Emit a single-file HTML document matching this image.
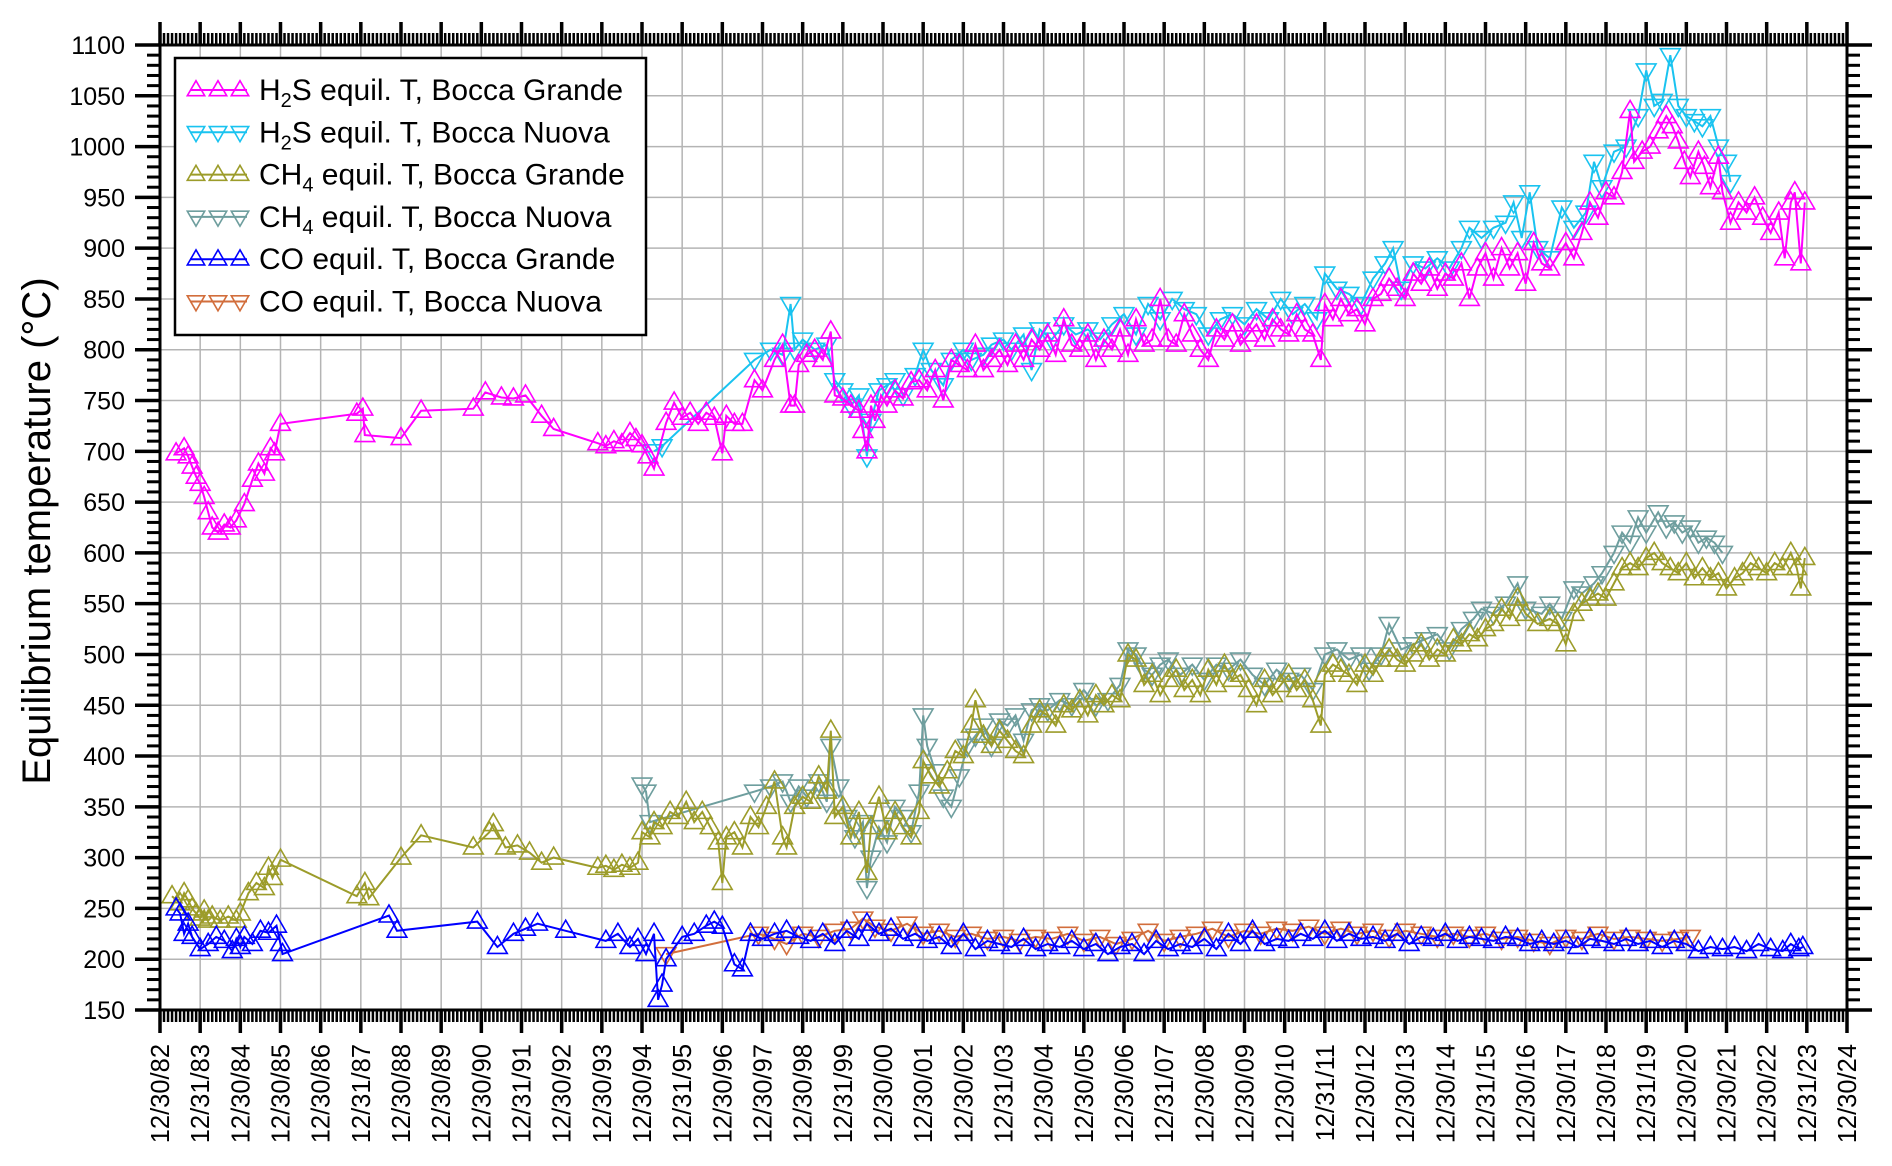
<!DOCTYPE html>
<html><head><meta charset="utf-8"><style>
html,body{margin:0;padding:0;background:#fff;}
svg{display:block;font-family:"Liberation Sans",Arial,sans-serif;}
</style></head><body>
<svg id="chart" width="1892" height="1166" viewBox="0 0 1892 1166" xmlns="http://www.w3.org/2000/svg">
<g id="grid"></g>
<g id="series"></g>
<g id="axes"></g>
<text transform="translate(50,531) rotate(-90)" text-anchor="middle" font-size="40" fill="#000">Equilibrium temperature (°C)</text>
<g id="legend"></g>
</svg>
<script>
const yTicks = [150,200,250,300,350,400,450,500,550,600,650,700,750,800,850,900,950,1000,1050,1100];
const xTickLabels = ["12/30/82","12/31/83","12/30/84","12/30/85","12/30/86","12/31/87","12/30/88","12/30/89","12/30/90","12/31/91","12/30/92","12/30/93","12/30/94","12/31/95","12/30/96","12/30/97","12/30/98","12/31/99","12/30/00","12/30/01","12/30/02","12/31/03","12/30/04","12/30/05","12/30/06","12/31/07","12/30/08","12/30/09","12/30/10","12/31/11","12/30/12","12/30/13","12/30/14","12/31/15","12/30/16","12/30/17","12/30/18","12/31/19","12/30/20","12/30/21","12/30/22","12/31/23","12/30/24"];
const xStartYear = 1983;

const h2sBgT = [1983.4,1983.6,1983.7,1983.8,1983.9,1984.0,1984.1,1984.2,1984.3,1984.45,1984.6,1984.75,1984.9,1985.1,1985.3,1985.45,1985.6,1985.75,1985.85,1986.0,1987.9,1988.05,1988.1,1989.0,1989.5,1990.8,1991.1,1991.5,1991.8,1992.1,1992.5,1992.8,1993.9,1994.1,1994.3,1994.5,1994.7,1994.85,1995.0,1995.15,1995.3,1995.6,1995.8,1996.0,1996.2,1996.4,1996.6,1996.8,1997.0,1997.1,1997.3,1997.5,1997.8,1998.0,1998.3,1998.5,1998.7,1998.8,1998.9,1999.1,1999.3,1999.5,1999.7,1999.8,2000.0,2000.2,2000.4,2000.5,2000.6,2000.7,2000.8,2000.95,2001.1,2001.3,2001.5,2001.7,2001.9,2002.1,2002.3,2002.5,2002.7,2002.9,2003.1,2003.3,2003.5,2003.7,2003.9,2004.1,2004.3,2004.5,2004.7,2004.9,2005.1,2005.3,2005.5,2005.7,2005.9,2006.1,2006.3,2006.5,2006.7,2006.9,2007.1,2007.3,2007.5,2007.7,2007.9,2008.1,2008.3,2008.5,2008.7,2008.9,2009.1,2009.3,2009.5,2009.7,2009.9,2010.1,2010.3,2010.5,2010.7,2010.9,2011.1,2011.3,2011.5,2011.7,2011.9,2012.0,2012.2,2012.4,2012.6,2012.8,2013.0,2013.2,2013.4,2013.6,2013.8,2014.0,2014.2,2014.4,2014.6,2014.8,2015.0,2015.2,2015.4,2015.6,2015.8,2016.0,2016.2,2016.4,2016.6,2016.8,2017.0,2017.2,2017.4,2017.6,2018.0,2018.2,2018.4,2018.6,2018.8,2019.0,2019.2,2019.4,2019.6,2019.7,2019.9,2020.1,2020.3,2020.5,2020.65,2020.8,2020.95,2021.1,2021.3,2021.45,2021.6,2021.8,2021.9,2022.1,2022.3,2022.5,2022.7,2022.9,2023.1,2023.3,2023.45,2023.6,2023.7,2023.85,2023.95];
const h2sBgV = [698,703,695,685,675,668,655,640,625,620,628,625,632,648,672,688,678,703,698,727,737,742,716,713,740,742,758,753,752,755,735,722,708,705,710,707,718,712,706,695,683,728,748,733,738,727,738,733,698,735,727,727,770,760,790,805,745,745,785,795,800,790,818,755,752,745,740,720,700,745,730,755,745,760,752,768,770,760,780,750,790,785,780,805,780,790,800,785,805,790,810,800,815,795,830,805,800,815,790,810,800,820,795,830,805,810,850,810,805,835,815,800,790,820,810,825,805,815,825,810,830,820,815,835,820,815,790,845,830,850,835,840,825,850,855,870,860,850,875,865,880,860,875,870,885,850,880,895,870,900,880,895,865,905,885,880,905,890,915,945,930,955,950,975,1035,985,995,1000,1015,1030,1020,1005,985,970,995,980,960,990,955,925,945,935,950,930,915,935,890,945,955,885,945];

const h2sBnT = [1995.3,1995.5,1997.8,1998.2,1998.5,1998.7,1998.8,1999.0,1999.3,1999.6,1999.8,2000.0,2000.2,2000.4,2000.6,2000.7,2000.9,2001.1,2001.3,2001.5,2001.8,2002.0,2002.2,2002.5,2002.7,2003.0,2003.2,2003.5,2003.7,2004.0,2004.2,2004.5,2004.7,2004.9,2005.2,2005.5,2005.8,2006.1,2006.4,2006.7,2007.0,2007.3,2007.6,2007.9,2008.2,2008.5,2008.8,2009.1,2009.4,2009.7,2010.0,2010.3,2010.6,2010.9,2011.2,2011.5,2011.8,2012.0,2012.3,2012.6,2012.9,2013.2,2013.5,2013.7,2013.9,2014.2,2014.5,2014.8,2015.1,2015.4,2015.6,2015.9,2016.2,2016.5,2016.7,2016.9,2017.1,2017.3,2017.6,2017.9,2018.2,2018.5,2018.7,2018.9,2019.2,2019.5,2019.8,2020.0,2020.2,2020.4,2020.6,2020.8,2021.0,2021.2,2021.4,2021.6,2021.8,2022.0,2022.1];
const h2sBnV = [700,705,790,800,795,845,800,810,800,805,770,760,745,755,695,730,760,765,770,755,775,800,780,765,790,800,790,795,805,810,800,815,780,820,810,825,815,820,810,825,835,815,845,830,850,840,835,815,830,835,825,840,830,850,835,845,830,875,860,855,845,870,885,900,860,885,880,890,880,900,920,910,920,925,945,910,955,900,890,940,920,935,985,960,995,1000,1030,1075,1040,1045,1090,1040,1030,1025,1020,1030,1000,985,965];

const ch4BgT = [1983.3,1983.5,1983.6,1983.7,1983.8,1983.9,1984.0,1984.1,1984.2,1984.3,1984.5,1984.7,1984.9,1985.0,1985.2,1985.4,1985.6,1985.7,1985.8,1986.0,1987.9,1988.1,1988.2,1989.0,1989.5,1990.8,1991.2,1991.3,1991.6,1991.9,1992.2,1992.5,1992.8,1993.9,1994.1,1994.3,1994.5,1994.7,1994.9,1995.0,1995.2,1995.3,1995.5,1995.7,1995.9,1996.1,1996.3,1996.5,1996.7,1996.9,1997.0,1997.1,1997.3,1997.5,1997.7,1997.9,1998.1,1998.3,1998.5,1998.6,1998.8,1999.0,1999.2,1999.4,1999.6,1999.7,1999.8,2000.0,2000.2,2000.4,2000.6,2000.7,2000.9,2001.1,2001.3,2001.5,2001.7,2001.9,2002.0,2002.2,2002.4,2002.6,2002.8,2003.0,2003.2,2003.3,2003.5,2003.7,2003.9,2004.1,2004.3,2004.5,2004.7,2004.9,2005.1,2005.3,2005.5,2005.7,2005.9,2006.1,2006.3,2006.5,2006.7,2006.9,2007.1,2007.3,2007.5,2007.7,2007.9,2008.1,2008.3,2008.5,2008.7,2008.9,2009.1,2009.3,2009.5,2009.7,2009.9,2010.1,2010.3,2010.5,2010.7,2010.9,2011.1,2011.3,2011.5,2011.7,2011.9,2012.0,2012.2,2012.4,2012.6,2012.8,2013.0,2013.2,2013.4,2013.6,2013.8,2014.0,2014.2,2014.4,2014.6,2014.8,2015.0,2015.2,2015.4,2015.6,2015.8,2016.0,2016.2,2016.4,2016.6,2016.8,2017.0,2017.3,2017.6,2017.8,2018.0,2018.2,2018.4,2018.6,2018.8,2019.0,2019.2,2019.4,2019.6,2019.8,2020.0,2020.2,2020.4,2020.6,2020.8,2021.0,2021.2,2021.4,2021.6,2021.8,2022.0,2022.2,2022.4,2022.6,2022.8,2023.0,2023.2,2023.4,2023.6,2023.75,2023.85,2023.95];
const ch4BgV = [262,255,265,258,250,245,240,248,238,242,238,242,238,245,265,275,270,290,280,298,262,275,260,300,322,310,325,333,310,312,305,295,300,290,292,288,293,290,295,325,320,335,330,345,340,355,335,345,330,315,275,320,325,310,340,330,350,375,320,310,350,360,355,380,365,425,340,350,320,345,285,330,360,325,345,330,320,345,395,380,370,385,405,400,430,455,420,410,425,415,405,400,430,445,440,430,450,445,455,440,460,450,460,455,500,495,470,480,460,475,485,465,475,460,485,470,490,475,480,465,450,475,460,470,480,465,475,455,430,480,490,485,480,470,490,480,495,505,495,490,500,510,495,505,500,515,510,520,515,525,530,545,535,555,540,530,535,530,510,540,550,555,560,555,570,585,590,585,595,600,590,585,580,590,575,585,575,580,565,575,580,590,585,580,590,585,600,585,565,595];

const ch4BnT = [1995.0,1995.1,1995.2,1997.8,1998.2,1998.5,1998.7,1998.9,1999.1,1999.4,1999.6,1999.7,1999.9,2000.1,2000.3,2000.5,2000.6,2000.7,2000.9,2001.1,2001.3,2001.5,2001.7,2001.9,2002.0,2002.1,2002.3,2002.5,2002.7,2002.9,2003.1,2003.3,2003.5,2003.7,2003.9,2004.1,2004.3,2004.5,2004.7,2004.9,2005.1,2005.4,2005.7,2006.0,2006.3,2006.6,2006.9,2007.1,2007.3,2007.5,2007.7,2007.9,2008.1,2008.4,2008.7,2009.0,2009.3,2009.6,2009.9,2010.2,2010.5,2010.8,2011.1,2011.4,2011.7,2012.0,2012.3,2012.6,2012.9,2013.1,2013.4,2013.6,2013.9,2014.2,2014.5,2014.8,2015.1,2015.4,2015.7,2015.9,2016.2,2016.5,2016.8,2017.0,2017.4,2017.6,2017.9,2018.2,2018.4,2018.7,2018.9,2019.2,2019.4,2019.6,2019.8,2020.0,2020.3,2020.5,2020.7,2020.9,2021.1,2021.3,2021.5,2021.7,2021.9];
const ch4BnV = [372,365,335,365,370,375,355,370,360,375,355,410,370,340,320,335,270,300,330,315,350,340,325,365,440,410,385,360,350,380,410,420,430,410,435,430,440,415,445,450,445,455,450,465,450,455,470,505,500,485,480,490,495,480,490,475,490,485,495,480,470,485,475,480,465,500,505,495,500,485,500,530,505,510,515,520,505,525,535,545,540,550,570,545,540,550,535,565,560,570,580,600,620,610,635,620,640,625,630,620,625,610,615,610,600];

const coBgT = [1983.4,1983.5,1983.6,1983.7,1983.8,1984.0,1984.2,1984.4,1984.6,1984.8,1984.9,1985.0,1985.1,1985.3,1985.5,1985.7,1985.9,1986.0,1986.05,1988.7,1988.9,1990.9,1991.4,1991.8,1992.1,1992.4,1993.1,1994.1,1994.4,1994.7,1994.9,1995.1,1995.3,1995.4,1995.5,1995.6,1996.0,1996.3,1996.6,1996.8,1997.0,1997.3,1997.5,1997.7,1998.0,1998.3,1998.6,1998.9,1999.2,1999.5,1999.8,2000.1,2000.4,2000.6,2000.9,2001.2,2001.5,2001.8,2002.1,2002.4,2002.7,2003.0,2003.3,2003.6,2003.9,2004.2,2004.5,2004.8,2005.1,2005.4,2005.7,2006.0,2006.3,2006.6,2006.9,2007.2,2007.5,2007.8,2008.1,2008.4,2008.7,2009.0,2009.3,2009.6,2009.9,2010.2,2010.5,2010.8,2011.1,2011.4,2011.7,2012.0,2012.3,2012.6,2012.9,2013.2,2013.5,2013.8,2014.1,2014.4,2014.7,2015.0,2015.3,2015.6,2015.9,2016.2,2016.5,2016.8,2017.1,2017.4,2017.7,2018.0,2018.3,2018.6,2018.9,2019.2,2019.5,2019.8,2020.1,2020.4,2020.7,2021.0,2021.3,2021.6,2021.9,2022.2,2022.5,2022.8,2023.1,2023.4,2023.6,2023.8,2023.9];
const coBgV = [250,245,225,235,222,210,215,222,218,208,220,212,222,215,228,226,233,215,205,243,228,237,212,225,230,235,228,218,225,212,220,205,225,160,175,200,222,225,233,237,232,195,190,225,220,225,228,222,218,225,215,228,220,235,225,230,220,225,218,222,212,225,210,218,215,212,220,210,215,212,218,210,215,205,212,215,205,218,210,215,212,220,210,225,215,228,215,220,218,225,220,228,218,225,220,222,218,225,215,222,220,225,218,222,220,218,222,220,215,218,215,218,212,220,218,215,220,215,218,212,218,215,208,212,210,212,208,215,210,208,215,210,212];

const coBnT = [1995.6,1997.9,1998.3,1998.6,1999.0,1999.4,1999.8,2000.2,2000.5,2000.8,2001.2,2001.6,2002.0,2002.4,2002.8,2003.2,2003.6,2004.0,2004.4,2004.8,2005.2,2005.6,2006.0,2006.4,2006.8,2007.2,2007.6,2008.0,2008.4,2008.8,2009.2,2009.6,2010.0,2010.4,2010.8,2011.2,2011.6,2012.0,2012.4,2012.8,2013.2,2013.6,2014.0,2014.4,2014.8,2015.2,2015.6,2016.0,2016.4,2016.8,2017.2,2017.6,2018.0,2018.4,2018.8,2019.2,2019.6,2020.0,2020.4,2020.8,2021.1];
const coBnV = [205,225,220,215,225,222,228,230,240,232,228,235,225,228,222,225,220,222,218,222,220,225,218,222,215,220,228,218,222,225,230,222,228,225,230,228,232,225,230,225,228,222,228,225,222,225,222,225,220,222,218,215,222,220,225,220,222,220,218,220,222];

const legendLabels = [["H","2","S equil. T, Bocca Grande"],["H","2","S equil. T, Bocca Nuova"],["CH","4"," equil. T, Bocca Grande"],["CH","4"," equil. T, Bocca Nuova"],["CO",""," equil. T, Bocca Grande"],["CO",""," equil. T, Bocca Nuova"]];

const L=160,R=1847,T=45,B=1010;
const NS='http://www.w3.org/2000/svg';
function xs(t){return L+(t-xStartYear)*(R-L)/42;}
function ys(v){return B-(v-150)*(B-T)/950;}
function mk(tag,attrs,parent){const e=document.createElementNS(NS,tag);for(const k in attrs)e.setAttribute(k,attrs[k]);parent.appendChild(e);return e;}
const grid=document.getElementById('grid'),axes=document.getElementById('axes'),ser=document.getElementById('series'),leg=document.getElementById('legend');

for(let i=1;i<42;i++){const g=mk('line',{x1:xs(xStartYear+i),x2:xs(xStartYear+i),y1:T,y2:B,stroke:'#b4b4b4','stroke-width':1.5},grid);

}
yTicks.forEach(v=>{if(v>150&&v<1100){const g=mk('line',{x1:L,x2:R,y1:ys(v),y2:ys(v),stroke:'#b4b4b4','stroke-width':1.5},grid);

}});

function triPts(x,y,up,s){return up?`${x},${y-s*0.62} ${x-s*0.58},${y+s*0.38} ${x+s*0.58},${y+s*0.38}`:`${x},${y+s*0.62} ${x-s*0.58},${y-s*0.38} ${x+s*0.58},${y-s*0.38}`;}
function drawSeries(tArr,vArr,color,up,name){
  const g=mk('g',{},ser);
  
  
  const pts=tArr.map((t,i)=>xs(t).toFixed(1)+','+ys(vArr[i]).toFixed(1)).join(' ');
  const pl=mk('polyline',{points:pts,fill:'none',stroke:color,'stroke-width':2},g);
  
  
  tArr.forEach((t,i)=>{const p=mk('polygon',{points:triPts(xs(t),ys(vArr[i]),up,17),fill:'none',stroke:color,'stroke-width':1.6},g);
  
  });
}
const cMag='#ff00ff',cCyan='#19c3f0',cOl='#9c9c2a',cTeal='#6e9e9e',cBlue='#0000ff',cOr='#d26e3c';
drawSeries(h2sBnT,h2sBnV,cCyan,false,'h2s-bocca-nuova');
drawSeries(h2sBgT,h2sBgV,cMag,true,'h2s-bocca-grande');
drawSeries(ch4BnT,ch4BnV,cTeal,false,'ch4-bocca-nuova');
drawSeries(ch4BgT,ch4BgV,cOl,true,'ch4-bocca-grande');
drawSeries(coBnT,coBnV,cOr,false,'co-bocca-nuova');
drawSeries(coBgT,coBgV,cBlue,true,'co-bocca-grande');

const fr=mk('rect',{x:L,y:T,width:R-L,height:B-T,fill:'none',stroke:'#000','stroke-width':3},axes);


for(let v=150;v<=1100;v+=10){const major=v%50===0;const len=major?25:13;
 const a=mk('line',{x1:L-len,x2:L,y1:ys(v),y2:ys(v),stroke:'#000','stroke-width':major?3.5:3},axes);
 
 
 const b=mk('line',{x1:R,x2:R+len,y1:ys(v),y2:ys(v),stroke:'#000','stroke-width':major?3.5:3},axes);
 
 }
yTicks.forEach(v=>{const t=mk('text',{x:125,y:ys(v)+9,'text-anchor':'end','font-size':25,fill:'#000'},axes);t.textContent=v;
 
 });
for(let i=0;i<=420;i++){const t=xStartYear+i/10;const major=i%10===0;const len=major?23:12;
 const a=mk('line',{x1:xs(t),x2:xs(t),y1:B,y2:B+len,stroke:'#000','stroke-width':major?3.5:2.5},axes);
 
 
 const b=mk('line',{x1:xs(t),x2:xs(t),y1:T-len,y2:T,stroke:'#000','stroke-width':major?3.5:2.5},axes);
 
 }
xTickLabels.forEach((lab,i)=>{const x=xs(xStartYear+i);const t=mk('text',{transform:`translate(${x+9},1044) rotate(-90)`,'text-anchor':'end','font-size':25.5,fill:'#000'},axes);t.textContent=lab;
 
 });

const lb=mk('rect',{x:175,y:58,width:471,height:277,fill:'#fff',stroke:'#000','stroke-width':2.5},leg);


const legColors=[cMag,cCyan,cOl,cTeal,cBlue,cOr];
const legUp=[true,false,true,false,true,false];
legendLabels.forEach((lab,i)=>{const y=90+i*42.3;const g=mk('g',{},leg);
 
 
 mk('line',{x1:190,x2:247,y1:y,y2:y,stroke:legColors[i],'stroke-width':2},g);
 [196,218,240].forEach(x=>mk('polygon',{points:triPts(x,y,legUp[i],15),fill:'none',stroke:legColors[i],'stroke-width':1.6},g));
 const t=mk('text',{x:259,y:y+10,'font-size':30,fill:'#000'},g);
 const s1=mk('tspan',{},t);s1.textContent=lab[0];
 if(lab[1]){const s2=mk('tspan',{'font-size':20,dy:7},t);s2.textContent=lab[1];const s3=mk('tspan',{dy:-7},t);s3.textContent=lab[2];}
 else{const s3=mk('tspan',{},t);s3.textContent=lab[2];}
});
</script>
</body></html>
